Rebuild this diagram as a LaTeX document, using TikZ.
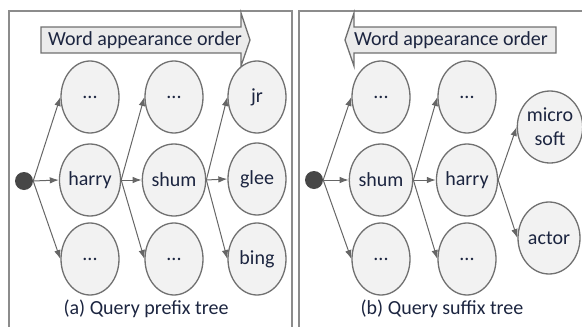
\documentclass[tikz,border=0pt]{standalone}
\usepackage{fontspec}
\setmainfont{Carlito}
\usetikzlibrary{shapes.geometric,arrows.meta}
\definecolor{txt}{HTML}{1C2540}
\definecolor{edgec}{HTML}{707070}
\definecolor{nodefill}{HTML}{F2F2F2}
\definecolor{arr}{HTML}{666666}
\definecolor{dotc}{HTML}{474747}
\definecolor{bannerfill}{HTML}{EBEBEB}
\definecolor{panelc}{HTML}{8C8C8C}
\begin{document}
\begin{tikzpicture}[x=1pt,y=-1pt,
  wnode/.style={ellipse, draw=edgec, fill=nodefill, line width=1.3pt, minimum width=58pt, minimum height=72pt, inner sep=0pt, text=txt, font=\fontsize{20}{24}\selectfont, align=center},
  rootdot/.style={circle, fill=dotc, minimum size=18pt, inner sep=0pt},
  conn/.style={draw=arr, line width=1pt, -{Latex[length=9pt,width=6.5pt]}},
  banner/.style={fill=bannerfill, draw=edgec, line width=1.3pt},
  panel/.style={draw=panelc, line width=1.3pt},
  lbl/.style={text=txt, font=\fontsize{20}{24}\selectfont, inner sep=0pt}]
\useasboundingbox (0,0) rectangle (582,327);
% panels
\draw[panel] (9,327) -- (9,11) -- (292,11) -- (292,327);
\draw[panel] (299,327) -- (299,11) -- (582,11);
% banners
\draw[banner] (41,27) -- (241,27) -- (241,13) -- (250,40) -- (241,66) -- (241,53) -- (41,53) -- cycle;
\node[lbl] (ba) at (145,40) {Word appearance order};
\draw[banner] (556,27) -- (354,27) -- (354,13) -- (345,40) -- (354,66) -- (354,53) -- (556,53) -- cycle;
\node[lbl] (bb) at (451,40) {Word appearance order};
% left tree
\node[rootdot] (ra) at (24,181) {};
\node[wnode] (a11) at (90,97) {...};
\node[wnode] (a12) at (90,180) {harry};
\node[wnode] (a13) at (90,259) {...};
\node[wnode] (a21) at (174,97) {...};
\node[wnode] (a22) at (174,180) {shum};
\node[wnode] (a23) at (174,259) {...};
\node[wnode] (a31) at (257,97) {jr};
\node[wnode] (a32) at (257,179) {glee};
\node[wnode] (a33) at (257,259) {bing};
\draw[conn] (ra.east) -- (a11.west);
\draw[conn] (ra.east) -- (a12.west);
\draw[conn] (ra.east) -- (a13.west);
\draw[conn] (a12.east) -- (a21.west);
\draw[conn] (a12.east) -- (a22.west);
\draw[conn] (a12.east) -- (a23.west);
\draw[conn] (a22.east) -- (a31.west);
\draw[conn] (a22.east) -- (a32.west);
\draw[conn] (a22.east) -- (a33.west);
\node[lbl] (ca) at (146,309) {(a) Query prefix tree};
% right tree
\node[rootdot] (rb) at (314,180) {};
\node[wnode] (b11) at (381,97) {...};
\node[wnode] (b12) at (381,180) {shum};
\node[wnode] (b13) at (381,259) {...};
\node[wnode] (b21) at (467,97) {...};
\node[wnode] (b22) at (467,180) {harry};
\node[wnode] (b23) at (467,259) {...};
\node[wnode, minimum width=62pt] (b31) at (550,127) {micro\\soft};
\node[wnode, minimum width=62pt] (b32) at (549,238) {actor};
\draw[conn] (rb.east) -- (b11.west);
\draw[conn] (rb.east) -- (b12.west);
\draw[conn] (rb.east) -- (b13.west);
\draw[conn] (b12.east) -- (b21.west);
\draw[conn] (b12.east) -- (b22.west);
\draw[conn] (b12.east) -- (b23.west);
\draw[conn] (b22.east) -- (b31.west);
\draw[conn] (b22.east) -- (b32.west);
\node[lbl] (cb) at (442,309) {(b) Query suffix tree};
\end{tikzpicture}
\end{document}
